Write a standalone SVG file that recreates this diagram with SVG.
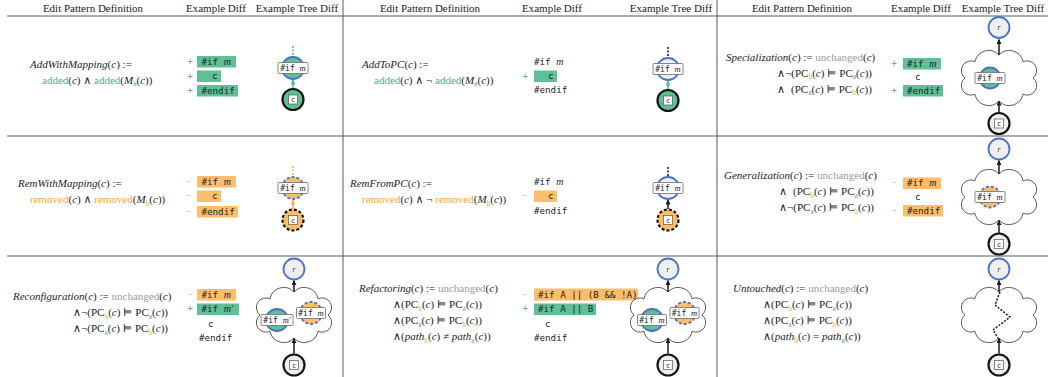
<svg xmlns="http://www.w3.org/2000/svg" width="1048" height="377" viewBox="0 0 1048 377">
<defs>
<style>
text{font-family:"Liberation Serif","DejaVu Serif",serif}
.hd{font-size:11px;fill:#222;text-anchor:middle}
.f{font-size:11px;fill:#1e1e1e}
.it{font-style:italic}
.s{font-size:7.5px}
.add{fill:#47b088}
.rem{fill:#f4a640}
.unc{fill:#9b9b9b}
.m{font-family:"DejaVu Sans Mono","Liberation Mono",monospace;font-size:9.2px;fill:#222}
.mi{font-family:"Liberation Serif",serif;font-style:italic;font-size:10px}
.sg{font-family:"DejaVu Sans",sans-serif;font-size:8px;text-anchor:middle}
.ba{fill:#5fbf96}
.bo{fill:#fdbd6b}
.sep{stroke:#5a5a5a;stroke-width:1}
.nb{stroke:#4a72c6;stroke-width:1.8}
.nk{stroke:#151515;stroke-width:2.2}
.dn{stroke-dasharray:3 2}
.fa{fill:#5fbf96}
.fo{fill:#fdbd6b}
.fu{fill:#efefef}
.lb{fill:#fff;stroke:#6a6a6a;stroke-width:0.8}
.lt{font-family:"DejaVu Sans Mono",monospace;font-size:8px;fill:#222;text-anchor:middle}
.lt .mi{font-size:8.5px}
.cb{fill:#fff;stroke:#555;stroke-width:0.7}
.ct{font-family:"DejaVu Sans Mono",monospace;font-size:7px;fill:#222;text-anchor:middle}
.rt{font-size:7.5px;font-style:italic;fill:#333;text-anchor:middle}
.cl{fill:#fff;stroke:#333;stroke-width:0.8}
.e{fill:none;stroke-width:1.5}
.ek{stroke:#1a1a1a}
.eg{stroke:#4fb98f}
.eo{stroke:#f7b055}
.ed{stroke-dasharray:2 1.5}
</style>
<marker id="ak" viewBox="0 0 6 6" refX="5.5" refY="3" markerWidth="5" markerHeight="5" markerUnits="userSpaceOnUse" orient="auto"><path d="M0,0 L6,3 L0,6 z" fill="#1a1a1a"/></marker>
<marker id="ag" viewBox="0 0 6 6" refX="5.5" refY="3" markerWidth="5" markerHeight="5" markerUnits="userSpaceOnUse" orient="auto"><path d="M0,0 L6,3 L0,6 z" fill="#4fb98f"/></marker>
<marker id="ao" viewBox="0 0 6 6" refX="5.5" refY="3" markerWidth="5" markerHeight="5" markerUnits="userSpaceOnUse" orient="auto"><path d="M0,0 L6,3 L0,6 z" fill="#f7b055"/></marker>
<path id="cloud" class="cl" d="M0,-23 A14,14 0 0 1 24.04,-16.26 A9.6,9.6 0 0 1 34,0 A9.6,9.6 0 0 1 24.04,16.26 A14,14 0 0 1 0,23 A14,14 0 0 1 -24.04,16.26 A9.6,9.6 0 0 1 -34,0 A9.6,9.6 0 0 1 -24.04,-16.26 A14,14 0 0 1 0,-23 Z"/>
</defs>

<!-- table rules -->
<g id="grid">
<line class="sep" x1="7" y1="16" x2="1048" y2="16"/>
<line class="sep" x1="7" y1="136" x2="1048" y2="136"/>
<line class="sep" x1="7" y1="256" x2="1048" y2="256"/>
<line class="sep" x1="343" y1="0" x2="343" y2="377"/>
<line class="sep" x1="717" y1="0" x2="717" y2="377"/>
</g>

<!-- column headings -->
<g id="headings">
<text class="hd" x="93" y="12">Edit Pattern Definition</text>
<text class="hd" x="216" y="12">Example Diff</text>
<text class="hd" x="297" y="12">Example Tree Diff</text>
<text class="hd" x="430" y="12">Edit Pattern Definition</text>
<text class="hd" x="552" y="12">Example Diff</text>
<text class="hd" x="671" y="12">Example Tree Diff</text>
<text class="hd" x="802" y="12">Edit Pattern Definition</text>
<text class="hd" x="921" y="12">Example Diff</text>
<text class="hd" x="1003" y="12">Example Tree Diff</text>
</g>

<!-- pattern definitions -->
<g id="definitions">
<text class="f" x="30" y="67.5"><tspan class="it">AddWithMapping</tspan>(<tspan class="it">c</tspan>) :=</text>
<text class="f" x="42" y="83.5"><tspan class="add">added</tspan>(<tspan class="it">c</tspan>) ∧ <tspan class="add">added</tspan>(<tspan class="it">M</tspan><tspan class="s add" dy="2.5">a</tspan><tspan dy="-2.5">(</tspan><tspan class="it">c</tspan>))</text>

<text class="f" x="362" y="67.5"><tspan class="it">AddToPC</tspan>(<tspan class="it">c</tspan>) :=</text>
<text class="f" x="374" y="83.5"><tspan class="add">added</tspan>(<tspan class="it">c</tspan>) ∧ ¬ <tspan class="add">added</tspan>(<tspan class="it">M</tspan><tspan class="s add" dy="2.5">a</tspan><tspan dy="-2.5">(</tspan><tspan class="it">c</tspan>))</text>

<text class="f" x="726" y="60.5"><tspan class="it">Specialization</tspan>(<tspan class="it">c</tspan>) := <tspan class="unc">unchanged</tspan>(<tspan class="it">c</tspan>)</text>
<text class="f" x="777" y="76.5">∧¬(PC<tspan class="s rem" dy="2.5">b</tspan><tspan dy="-2.5">(</tspan><tspan class="it">c</tspan>) ⊨ PC<tspan class="s add" dy="2.5">a</tspan><tspan dy="-2.5">(</tspan><tspan class="it">c</tspan>))</text>
<text class="f" x="777" y="92.5">∧<tspan dx="6">(PC</tspan><tspan class="s add" dy="2.5">a</tspan><tspan dy="-2.5">(</tspan><tspan class="it">c</tspan>) ⊨ PC<tspan class="s rem" dy="2.5">b</tspan><tspan dy="-2.5">(</tspan><tspan class="it">c</tspan>))</text>

<text class="f" x="18" y="187"><tspan class="it">RemWithMapping</tspan>(<tspan class="it">c</tspan>) :=</text>
<text class="f" x="30" y="203"><tspan class="rem">removed</tspan>(<tspan class="it">c</tspan>) ∧ <tspan class="rem">removed</tspan>(<tspan class="it">M</tspan><tspan class="s rem" dy="2.5">b</tspan><tspan dy="-2.5">(</tspan><tspan class="it">c</tspan>))</text>

<text class="f" x="350" y="187"><tspan class="it">RemFromPC</tspan>(<tspan class="it">c</tspan>) :=</text>
<text class="f" x="362" y="203"><tspan class="rem">removed</tspan>(<tspan class="it">c</tspan>) ∧ ¬ <tspan class="rem">removed</tspan>(<tspan class="it">M</tspan><tspan class="s rem" dy="2.5">b</tspan><tspan dy="-2.5">(</tspan><tspan class="it">c</tspan>))</text>

<text class="f" x="724" y="179"><tspan class="it">Generalization</tspan>(<tspan class="it">c</tspan>) := <tspan class="unc">unchanged</tspan>(<tspan class="it">c</tspan>)</text>
<text class="f" x="779" y="195">∧<tspan dx="6">(PC</tspan><tspan class="s rem" dy="2.5">b</tspan><tspan dy="-2.5">(</tspan><tspan class="it">c</tspan>) ⊨ PC<tspan class="s add" dy="2.5">a</tspan><tspan dy="-2.5">(</tspan><tspan class="it">c</tspan>))</text>
<text class="f" x="779" y="211">∧¬(PC<tspan class="s add" dy="2.5">a</tspan><tspan dy="-2.5">(</tspan><tspan class="it">c</tspan>) ⊨ PC<tspan class="s rem" dy="2.5">b</tspan><tspan dy="-2.5">(</tspan><tspan class="it">c</tspan>))</text>

<text class="f" x="13" y="300"><tspan class="it">Reconfiguration</tspan>(<tspan class="it">c</tspan>) := <tspan class="unc">unchanged</tspan>(<tspan class="it">c</tspan>)</text>
<text class="f" x="73" y="316">∧¬(PC<tspan class="s rem" dy="2.5">b</tspan><tspan dy="-2.5">(</tspan><tspan class="it">c</tspan>) ⊨ PC<tspan class="s add" dy="2.5">a</tspan><tspan dy="-2.5">(</tspan><tspan class="it">c</tspan>))</text>
<text class="f" x="73" y="332">∧¬(PC<tspan class="s add" dy="2.5">a</tspan><tspan dy="-2.5">(</tspan><tspan class="it">c</tspan>) ⊨ PC<tspan class="s rem" dy="2.5">b</tspan><tspan dy="-2.5">(</tspan><tspan class="it">c</tspan>))</text>

<text class="f" x="359" y="292"><tspan class="it">Refactoring</tspan>(<tspan class="it">c</tspan>) := <tspan class="unc">unchanged</tspan>(<tspan class="it">c</tspan>)</text>
<text class="f" x="393" y="308">∧(PC<tspan class="s rem" dy="2.5">b</tspan><tspan dy="-2.5">(</tspan><tspan class="it">c</tspan>) ⊨ PC<tspan class="s add" dy="2.5">a</tspan><tspan dy="-2.5">(</tspan><tspan class="it">c</tspan>))</text>
<text class="f" x="393" y="324">∧(PC<tspan class="s add" dy="2.5">a</tspan><tspan dy="-2.5">(</tspan><tspan class="it">c</tspan>) ⊨ PC<tspan class="s rem" dy="2.5">b</tspan><tspan dy="-2.5">(</tspan><tspan class="it">c</tspan>))</text>
<text class="f" x="393" y="340">∧(<tspan class="it">path</tspan><tspan class="s rem" dy="2.5">b</tspan><tspan dy="-2.5">(</tspan><tspan class="it">c</tspan>) ≠ <tspan class="it">path</tspan><tspan class="s add" dy="2.5">a</tspan><tspan dy="-2.5">(</tspan><tspan class="it">c</tspan>))</text>

<text class="f" x="733" y="292"><tspan class="it">Untouched</tspan>(<tspan class="it">c</tspan>) := <tspan class="unc">unchanged</tspan>(<tspan class="it">c</tspan>)</text>
<text class="f" x="763" y="308">∧(PC<tspan class="s rem" dy="2.5">b</tspan><tspan dy="-2.5">(</tspan><tspan class="it">c</tspan>) ⊨ PC<tspan class="s add" dy="2.5">a</tspan><tspan dy="-2.5">(</tspan><tspan class="it">c</tspan>))</text>
<text class="f" x="763" y="324">∧(PC<tspan class="s add" dy="2.5">a</tspan><tspan dy="-2.5">(</tspan><tspan class="it">c</tspan>) ⊨ PC<tspan class="s rem" dy="2.5">b</tspan><tspan dy="-2.5">(</tspan><tspan class="it">c</tspan>))</text>
<text class="f" x="763" y="340">∧(<tspan class="it">path</tspan><tspan class="s rem" dy="2.5">b</tspan><tspan dy="-2.5">(</tspan><tspan class="it">c</tspan>) = <tspan class="it">path</tspan><tspan class="s add" dy="2.5">a</tspan><tspan dy="-2.5">(</tspan><tspan class="it">c</tspan>))</text>
</g>

<!-- example diffs -->
<g id="diffs">
<g id="diff-addwithmapping">
<rect class="ba" x="197" y="56" width="39" height="11.5"/>
<rect class="ba" x="197" y="70.5" width="24" height="11.5"/>
<rect class="ba" x="197" y="85" width="41" height="11.5"/>
<text class="sg add" x="190" y="64">+</text><text class="sg add" x="190" y="78.5">+</text><text class="sg add" x="190" y="93">+</text>
<text class="m" x="201.5" y="64.5">#if <tspan class="mi">m</tspan></text>
<text class="m" x="212" y="79">c</text>
<text class="m" x="201.5" y="93.5">#endif</text>
</g>
<g id="diff-addtopc">
<rect class="ba" x="534" y="70.5" width="23" height="11.5"/>
<text class="sg add" x="525" y="78.5">+</text>
<text class="m" x="534" y="65">#if <tspan class="mi">m</tspan></text>
<text class="m" x="548" y="79">c</text>
<text class="m" x="534" y="93">#endif</text>
</g>
<g id="diff-specialization">
<rect class="ba" x="903" y="58" width="38" height="11.5"/>
<rect class="ba" x="903" y="85" width="40" height="11.5"/>
<text class="sg add" x="894" y="66">+</text><text class="sg add" x="894" y="93">+</text>
<text class="m" x="907" y="66.5">#if <tspan class="mi">m</tspan></text>
<text class="m" x="915" y="80">c</text>
<text class="m" x="907" y="93.5">#endif</text>
</g>
<g id="diff-remwithmapping">
<rect class="bo" x="197" y="176" width="39" height="11.5"/>
<rect class="bo" x="197" y="190.5" width="24" height="11.5"/>
<rect class="bo" x="197" y="206" width="41" height="11.5"/>
<text class="sg rem" x="189" y="183.5">–</text><text class="sg rem" x="189" y="198">–</text><text class="sg rem" x="189" y="213.5">–</text>
<text class="m" x="201.5" y="184.5">#if <tspan class="mi">m</tspan></text>
<text class="m" x="212" y="199">c</text>
<text class="m" x="201.5" y="214.5">#endif</text>
</g>
<g id="diff-remfrompc">
<rect class="bo" x="534" y="190.5" width="23" height="11.5"/>
<text class="sg rem" x="525" y="198">–</text>
<text class="m" x="534" y="185">#if <tspan class="mi">m</tspan></text>
<text class="m" x="548" y="199">c</text>
<text class="m" x="534" y="213.5">#endif</text>
</g>
<g id="diff-generalization">
<rect class="bo" x="903" y="177.5" width="38" height="11.5"/>
<rect class="bo" x="903" y="205" width="40" height="11.5"/>
<text class="sg rem" x="894" y="185">–</text><text class="sg rem" x="894" y="212.5">–</text>
<text class="m" x="907" y="186">#if <tspan class="mi">m</tspan></text>
<text class="m" x="915" y="199.5">c</text>
<text class="m" x="907" y="213.5">#endif</text>
</g>
<g id="diff-reconfiguration">
<rect class="bo" x="197" y="289" width="39" height="11.5"/>
<rect class="ba" x="197" y="303.5" width="42" height="11.5"/>
<text class="sg rem" x="190" y="296.5">–</text><text class="sg add" x="190" y="311">+</text>
<text class="m" x="201.5" y="297.5">#if <tspan class="mi">m</tspan></text>
<text class="m" x="201.5" y="312">#if <tspan class="mi">m′</tspan></text>
<text class="m" x="208" y="326.5">c</text>
<text class="m" x="199" y="341">#endif</text>
</g>
<g id="diff-refactoring">
<rect class="bo" x="534" y="288.5" width="104" height="12"/>
<rect class="ba" x="534" y="303.5" width="62" height="11.5"/>
<text class="sg rem" x="525" y="296.5">–</text><text class="sg add" x="525" y="311">+</text>
<text class="m" x="538" y="297.5">#if A || (B &amp;&amp; !A)</text>
<text class="m" x="538" y="312">#if A || B</text>
<text class="m" x="545" y="326.5">c</text>
<text class="m" x="534" y="341">#endif</text>
</g>
</g>

<!-- clouds standing for arbitrary subtrees -->
<g id="subtrees">
<use href="#cloud" x="999" y="78"/>
<use href="#cloud" x="999" y="197"/>
<use href="#cloud" x="294" y="315"/>
<use href="#cloud" x="668" y="315"/>
<use href="#cloud" x="999" y="315"/>
</g>

<!-- tree edges -->
<g id="connectors">
<line class="e eg ed" x1="293" y1="46" x2="293" y2="56.5"/>
<line class="e eg" x1="293" y1="88.5" x2="293" y2="80" marker-end="url(#ag)"/>
<line class="e ek ed" x1="668" y1="47" x2="668" y2="57.5"/>
<line class="e eg" x1="668" y1="89.5" x2="668" y2="81" marker-end="url(#ag)"/>
<line class="e ek" x1="999" y1="55" x2="999" y2="39.5" marker-end="url(#ak)"/>
<line class="e ek" x1="999" y1="112" x2="999" y2="101" marker-end="url(#ak)"/>
<line class="e eo ed" x1="293" y1="166" x2="293" y2="176.5"/>
<line class="e eo" x1="293" y1="209" x2="293" y2="200" marker-end="url(#ao)"/>
<line class="e ek ed" x1="668" y1="167" x2="668" y2="176.5"/>
<line class="e ek" x1="668" y1="209" x2="668" y2="200" marker-end="url(#ak)"/>
<line class="e ek" x1="999" y1="174" x2="999" y2="160.5" marker-end="url(#ak)"/>
<line class="e ek" x1="999" y1="233" x2="999" y2="220.5" marker-end="url(#ak)"/>
<line class="e ek" x1="294" y1="292" x2="294" y2="280.5" marker-end="url(#ak)"/>
<line class="e ek" x1="294" y1="353.5" x2="294" y2="338.5" marker-end="url(#ak)"/>
<line class="e ek" x1="668" y1="292" x2="668" y2="280.5" marker-end="url(#ak)"/>
<line class="e ek" x1="668" y1="353.5" x2="668" y2="338.5" marker-end="url(#ak)"/>
<line class="e ek" x1="999" y1="292" x2="999" y2="280.5" marker-end="url(#ak)"/>
<line class="e ek" x1="999" y1="353.5" x2="999" y2="338.5" marker-end="url(#ak)"/>
<polyline class="e ek ed" points="1000,292 995,305 1010,317 993,330 998,338"/>
</g>

<!-- tree nodes -->
<g id="nodes">
<g id="awm-if"><circle cx="293" cy="68" r="11" class="fa nb"/><rect class="lb" x="278" y="62.5" width="30" height="11" rx="1"/><text class="lt" x="293" y="71">#if <tspan class="mi">m</tspan></text></g>
<g id="awm-c"><circle cx="293" cy="99.5" r="10.5" class="fa nk"/><rect class="cb" x="288.5" y="95" width="9" height="9"/><text class="ct" x="293" y="102">c</text></g>

<g id="atp-if"><circle cx="668" cy="69" r="11" class="fu nb"/><rect class="lb" x="653" y="63.5" width="30" height="11" rx="1"/><text class="lt" x="668" y="72">#if <tspan class="mi">m</tspan></text></g>
<g id="atp-c"><circle cx="668" cy="100.5" r="10.5" class="fa nk"/><rect class="cb" x="663.5" y="96" width="9" height="9"/><text class="ct" x="668" y="103">c</text></g>

<g id="spc-r"><circle cx="999" cy="27.5" r="10.5" class="fu nb"/><text class="rt" x="999" y="30">r</text></g>
<g id="spc-if"><circle cx="990" cy="78" r="10.5" class="fa nb"/><rect class="lb" x="975" y="72.5" width="30" height="11" rx="1"/><text class="lt" x="990" y="81">#if <tspan class="mi">m</tspan></text></g>
<g id="spc-c"><circle cx="999" cy="123.5" r="10.5" class="fu nk"/><rect class="cb" x="994.5" y="119" width="9" height="9"/><text class="ct" x="999" y="126">c</text></g>

<g id="rwm-if"><circle cx="293" cy="188" r="11" class="fo nb dn"/><rect class="lb" x="278" y="182.5" width="30" height="11" rx="1"/><text class="lt" x="293" y="191">#if <tspan class="mi">m</tspan></text></g>
<g id="rwm-c"><circle cx="293" cy="220" r="10.5" class="fo nk dn"/><rect class="cb" x="288.5" y="215.5" width="9" height="9"/><text class="ct" x="293" y="222.5">c</text></g>

<g id="rfp-if"><circle cx="668" cy="188" r="11" class="fu nb"/><rect class="lb" x="653" y="182.5" width="30" height="11" rx="1"/><text class="lt" x="668" y="191">#if <tspan class="mi">m</tspan></text></g>
<g id="rfp-c"><circle cx="668" cy="220" r="10.5" class="fo nk dn"/><rect class="cb" x="663.5" y="215.5" width="9" height="9"/><text class="ct" x="668" y="222.5">c</text></g>

<g id="gen-r"><circle cx="999" cy="149" r="10.5" class="fu nb"/><text class="rt" x="999" y="151.5">r</text></g>
<g id="gen-if"><circle cx="990" cy="197" r="10.5" class="fo nb dn"/><rect class="lb" x="975" y="191.5" width="30" height="11" rx="1"/><text class="lt" x="990" y="200">#if <tspan class="mi">m</tspan></text></g>
<g id="gen-c"><circle cx="999" cy="244" r="10.5" class="fu nk"/><rect class="cb" x="994.5" y="239.5" width="9" height="9"/><text class="ct" x="999" y="246.5">c</text></g>

<g id="rcf-r"><circle cx="294" cy="269" r="10.5" class="fu nb"/><text class="rt" x="294" y="271.5">r</text></g>
<g id="rcf-if-new"><circle cx="277" cy="320" r="11" class="fa nb"/><rect class="lb" x="261" y="314.5" width="32" height="11" rx="1"/><text class="lt" x="277" y="323">#if <tspan class="mi">m′</tspan></text></g>
<g id="rcf-if-old"><circle cx="311" cy="313" r="11" class="fo nb dn"/><rect class="lb" x="296.5" y="307.5" width="29" height="11" rx="1"/><text class="lt" x="311" y="316">#if <tspan class="mi">m</tspan></text></g>
<g id="rcf-c"><circle cx="294" cy="365" r="10.5" class="fu nk"/><rect class="cb" x="289.5" y="360.5" width="9" height="9"/><text class="ct" x="294" y="367.5">c</text></g>

<g id="rft-r"><circle cx="668" cy="269" r="10.5" class="fu nb"/><text class="rt" x="668" y="271.5">r</text></g>
<g id="rft-if-new"><circle cx="652" cy="320" r="11" class="fa nb"/><rect class="lb" x="637.5" y="314.5" width="29" height="11" rx="1"/><text class="lt" x="652" y="323">#if <tspan class="mi">m</tspan></text></g>
<g id="rft-if-old"><circle cx="684.5" cy="313" r="11" class="fo nb dn"/><rect class="lb" x="670" y="307.5" width="29" height="11" rx="1"/><text class="lt" x="684.5" y="316">#if <tspan class="mi">m</tspan></text></g>
<g id="rft-c"><circle cx="668" cy="365" r="10.5" class="fu nk"/><rect class="cb" x="663.5" y="360.5" width="9" height="9"/><text class="ct" x="668" y="367.5">c</text></g>

<g id="unt-r"><circle cx="999" cy="269" r="10.5" class="fu nb"/><text class="rt" x="999" y="271.5">r</text></g>
<g id="unt-c"><circle cx="999" cy="365" r="10.5" class="fu nk"/><rect class="cb" x="994.5" y="360.5" width="9" height="9"/><text class="ct" x="999" y="367.5">c</text></g>
</g>
</svg>
